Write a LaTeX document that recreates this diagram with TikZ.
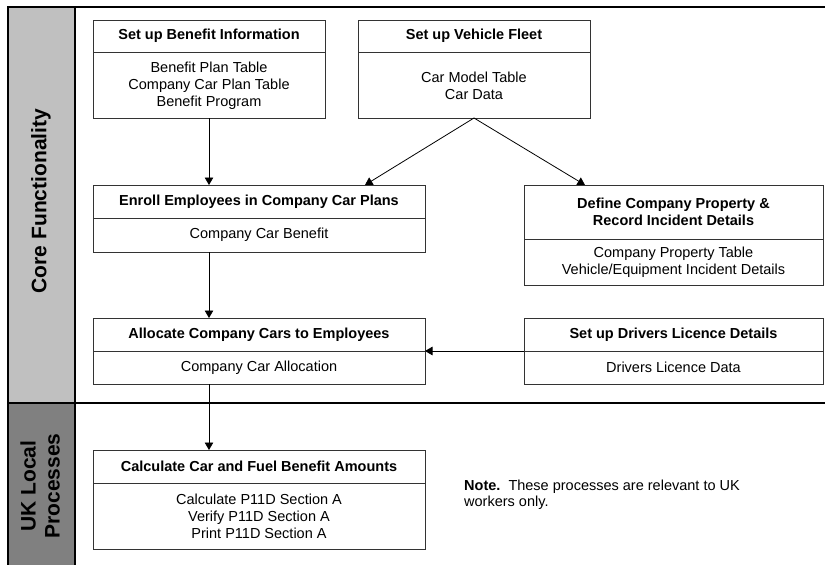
\documentclass[tikz,border=0pt]{standalone}
\usepackage{fontspec}
\setmainfont{Liberation Sans}
\usetikzlibrary{arrows.meta}
\definecolor{corefill}{HTML}{C0C0C0}
\definecolor{ukfill}{HTML}{808080}
\definecolor{boxline}{HTML}{333333}
\begin{document}
\begin{tikzpicture}[x=1pt,y=-1pt,
  box/.style={draw=boxline, line width=0.8pt, fill=white, inner sep=0pt, outer sep=0pt},
  hdr/.style={font=\fontsize{14.5}{17.5}\selectfont\bfseries, align=center, inner sep=0pt},
  body/.style={font=\fontsize{14.5}{17}\selectfont, align=center, inner sep=0pt},
  arr/.style={-{Triangle[length=7.5pt,width=8.5pt]}, line width=0.8pt},
  frame/.style={line width=2pt, black},
  lane/.style={font=\fontsize{21}{24}\selectfont\bfseries, rotate=90, align=center, inner sep=0pt}]
\useasboundingbox (0,0) rectangle (825,565);

% swim-lane bars
\fill[corefill] (8,7) rectangle (75,403);
\fill[ukfill] (8,403) rectangle (75,565);
\draw[frame] (8,565) -- (8,7) -- (825,7);
\draw[frame] (75,7) -- (75,565);
\draw[frame] (8,403) -- (825,403);

\node[lane] (core) at (41,201) {Core Functionality};
\node[lane] (uk) at (40,486) {UK Local\\Processes};

% process boxes
\node[box, minimum width=232, minimum height=98] (b1) at (209,69) {};
\node[box, minimum width=232, minimum height=98] (b2) at (474,69) {};
\node[box, minimum width=332, minimum height=67] (b3) at (259,218.5) {};
\node[box, minimum width=299, minimum height=100] (b4) at (673.5,235) {};
\node[box, minimum width=332, minimum height=66] (b5) at (259,351) {};
\node[box, minimum width=299, minimum height=66] (b6) at (673.5,351) {};
\node[box, minimum width=332, minimum height=99] (b7) at (259,499.5) {};

% header/body separators
\coordinate (d1) at (0,52);
\coordinate (d3) at (0,218);
\coordinate (d4) at (0,239);
\coordinate (d5) at (0,351);
\coordinate (d7) at (0,483);
\draw[boxline, line width=0.8pt] (b1.west |- d1) -- (b1.east |- d1);
\draw[boxline, line width=0.8pt] (b2.west |- d1) -- (b2.east |- d1);
\draw[boxline, line width=0.8pt] (b3.west |- d3) -- (b3.east |- d3);
\draw[boxline, line width=0.8pt] (b4.west |- d4) -- (b4.east |- d4);
\draw[boxline, line width=0.8pt] (b5.west |- d5) -- (b5.east |- d5);
\draw[boxline, line width=0.8pt] (b6.west |- d5) -- (b6.east |- d5);
\draw[boxline, line width=0.8pt] (b7.west |- d7) -- (b7.east |- d7);

% box texts
\node[hdr] (h1) at (209,36) {Set up Benefit Information};
\node[body] (t1) at (209,86) {Benefit Plan Table\\Company Car Plan Table\\Benefit Program};
\node[hdr] (h2) at (474,36) {Set up Vehicle Fleet};
\node[body] (t2) at (474,86) {Car Model Table\\Car Data};
\node[hdr] (h3) at (259,201.5) {Enroll Employees in Company Car Plans};
\node[body] (t3) at (259,235) {Company Car Benefit};
\node[hdr] (h4) at (673.5,212) {Define Company Property \&\\Record Incident Details};
\node[body] (t4) at (673.5,262) {Company Property Table\\Vehicle/Equipment Incident Details};
\node[hdr] (h5) at (259,334.5) {Allocate Company Cars to Employees};
\node[body] (t5) at (259,367.5) {Company Car Allocation};
\node[hdr] (h6) at (673.5,334.5) {Set up Drivers Licence Details};
\node[body] (t6) at (673.5,367.5) {Drivers Licence Data};
\node[hdr] (h7) at (259,466.5) {Calculate Car and Fuel Benefit Amounts};
\node[body] (t7) at (259,516) {Calculate P11D Section A\\Verify P11D Section A\\Print P11D Section A};

\node[anchor=north west, align=left, inner sep=0pt,
      font=\fontsize{14.5}{16}\selectfont] (note) at (464,480)
  {\textbf{Note.}\ \ These processes are relevant to UK\\workers only.};

% connectors
\coordinate (e3) at (365,185);
\coordinate (e4) at (585,185);
\draw[arr] (b1.south) -- (b3.north -| b1.south);
\draw[arr] (b2.south) -- (e3);
\draw[arr] (b2.south) -- (e4);
\draw[arr] (b3.south -| b1.south) -- (b5.north -| b1.south);
\draw[arr] (b6.west |- d5) -- (b5.east |- d5);
\draw[arr] (b5.south -| b1.south) -- (b7.north -| b1.south);
\end{tikzpicture}
\end{document}
